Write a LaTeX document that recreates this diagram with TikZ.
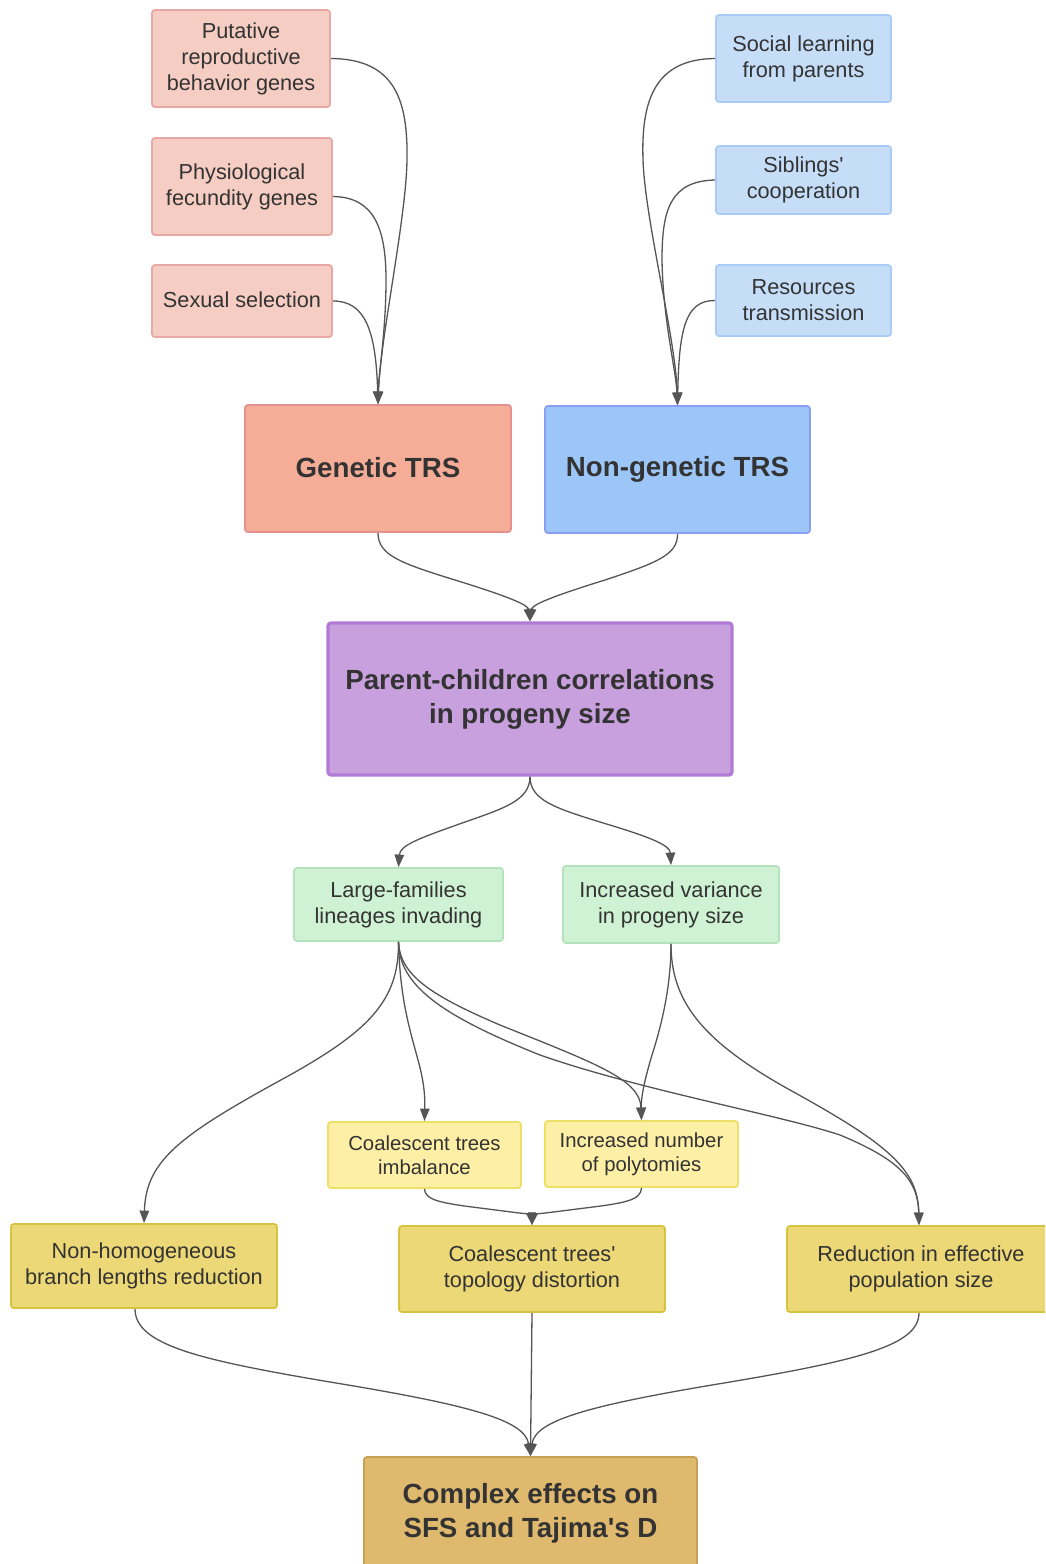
\documentclass[tikz,border=0pt]{standalone}
\usepackage{fontspec}
\setmainfont{Liberation Sans}
\usetikzlibrary{arrows.meta}
\definecolor{txt}{HTML}{333333}
\definecolor{edge}{HTML}{555555}
\definecolor{pinkF}{HTML}{F5CDC3}\definecolor{pinkD}{HTML}{E8A9A5}
\definecolor{lblueF}{HTML}{C6DDF8}\definecolor{lblueD}{HTML}{A9CCF6}
\definecolor{genF}{HTML}{F6AD97}\definecolor{genD}{HTML}{E59190}
\definecolor{ngF}{HTML}{9DC6F8}\definecolor{ngD}{HTML}{8C9EF3}
\definecolor{purF}{HTML}{C8A0DE}\definecolor{purD}{HTML}{B07AD6}
\definecolor{grnF}{HTML}{D0F2D4}\definecolor{grnD}{HTML}{B4E2BA}
\definecolor{lyF}{HTML}{FEEFA6}\definecolor{lyD}{HTML}{EEDF66}
\definecolor{yF}{HTML}{ECD877}\definecolor{yD}{HTML}{D6C43E}
\definecolor{cxF}{HTML}{DFB96D}\definecolor{cxD}{HTML}{C6A055}
\tikzset{
  box/.style={rectangle, rounded corners=3pt, line width=1.8pt, align=center, text=txt, inner sep=0pt,
    font=\fontsize{21.7}{26}\selectfont},
  bigbox/.style={box, font=\fontsize{27.7}{34}\selectfont\bfseries},
  smallbox/.style={box, font=\fontsize{20.3}{24}\selectfont},
  pinkbox/.style={fill=pinkF, draw=pinkD},
  lbluebox/.style={fill=lblueF, draw=lblueD},
  grnbox/.style={fill=grnF, draw=grnD},
  lybox/.style={fill=lyF, draw=lyD},
  ybox/.style={fill=yF, draw=yD},
  conn/.style={draw=edge, line width=1.3pt, -{Triangle[length=12.5pt,width=9.5pt]}, fill=none},
}
\begin{document}
\begin{tikzpicture}[x=1pt, y=-1pt]
\clip (0,0) rectangle (1045,1564);
\fill[white] (0,0) rectangle (1045,1564);

% top-left sources
\node[box, pinkbox, minimum width=178pt, minimum height=97pt] (put) at (241,58.5) {Putative\\reproductive\\behavior genes};
\node[box, pinkbox, minimum width=180pt, minimum height=97pt] (phy) at (242,186.5) {\raisebox{2pt}{Physiological}\\\raisebox{2pt}{fecundity genes}};
\node[box, pinkbox, minimum width=180pt, minimum height=72pt] (sex) at (242,301) {\raisebox{2pt}{Sexual selection}};
% top-right sources
\node[box, lbluebox, minimum width=175pt, minimum height=87pt] (soc) at (803.5,58.5) {Social learning\\from parents};
\node[box, lbluebox, minimum width=175pt, minimum height=68pt] (sib) at (803.5,180) {Siblings\textquotesingle\\cooperation};
\node[box, lbluebox, minimum width=175pt, minimum height=71pt] (res) at (803.5,300.5) {Resources\\transmission};
% TRS
\node[bigbox, fill=genF, draw=genD, minimum width=266pt, minimum height=127pt] (gen) at (378,468.5) {\raisebox{3pt}{Genetic TRS}};
\node[bigbox, fill=ngF, draw=ngD, minimum width=265pt, minimum height=127pt] (ngen) at (677.5,469.5) {Non-genetic TRS};
% parent-children
\node[bigbox, fill=purF, draw=purD, line width=3.2pt, minimum width=404pt, minimum height=152pt] (par) at (530,699) {Parent-children correlations\\in progeny size};
% green
\node[box, grnbox, minimum width=209pt, minimum height=73pt] (lar) at (398.5,904.5) {Large-families\\lineages invading};
\node[box, grnbox, minimum width=216pt, minimum height=77pt] (var) at (671,904.5) {Increased variance\\in progeny size};
% light yellow
\node[smallbox, lybox, minimum width=193pt, minimum height=66pt] (imb) at (424.5,1155) {Coalescent trees\\imbalance};
\node[smallbox, lybox, minimum width=193pt, minimum height=66pt] (pol) at (641.5,1154) {Increased number\\of polytomies};
% yellow
\node[box, ybox, minimum width=266pt, minimum height=84pt] (nh) at (144,1266) {Non-homogeneous\\branch lengths reduction};
\node[box, ybox, minimum width=266pt, minimum height=86pt] (top) at (532,1269) {Coalescent trees\textquotesingle\\topology distortion};
\node[box, ybox, minimum width=268pt, minimum height=86pt] (red) at (921,1269) {Reduction in effective\\population size};
% complex
\node[bigbox, fill=cxF, draw=cxD, minimum width=333pt, minimum height=113pt] (cx) at (530.5,1513.5) {Complex effects on\\SFS and Tajima\textquotesingle s D};

% connectors into Genetic TRS
\draw[conn] (put.east) .. controls (395,59) and (408,100) .. (407,160) .. controls (406,220) and (380,340) .. (gen.north);
\draw[conn] ([yshift=-10pt]phy.east) .. controls (375,197) and (386,230) .. (386,280) .. controls (386,330) and (379,370) .. (gen.north);
\draw[conn] (sex.east) .. controls (365,301) and (376,330) .. (gen.north);
% connectors into Non-genetic TRS
\draw[conn] (soc.west) .. controls (655,59) and (641,100) .. (643,160) .. controls (645,220) and (676,340) .. (ngen.north);
\draw[conn] (sib.west) .. controls (670,181) and (662,210) .. (662,260) .. controls (663,320) and (676,370) .. (ngen.north);
\draw[conn] (res.west) .. controls (685,300) and (679,330) .. (ngen.north);
% TRS -> parent
\draw[conn] (gen.south) .. controls (378,555) and (400,563) .. (455,580) .. controls (510,597) and (528,605) .. (par.north);
\draw[conn] (ngen.south) .. controls (678,555) and (656,563) .. (605,580) .. controls (550,597) and (532,605) .. (par.north);
% parent -> green
\draw[conn] (par.south) .. controls (530,800) and (505,808) .. (465,822) .. controls (420,838) and (400,845) .. (lar.north);
\draw[conn] (par.south) .. controls (530,800) and (555,808) .. (600,822) .. controls (650,837) and (670,845) .. (var.north);
% large families ->
\draw[conn] (lar.south) .. controls (399,1000) and (370,1030) .. (290,1075) .. controls (180,1135) and (146,1160) .. (nh.north);
\draw[conn] (lar.south) .. controls (400,1000) and (410,1030) .. (418,1060) .. controls (425,1085) and (425,1100) .. (imb.north);
\draw[conn] (lar.south) .. controls (400,975) and (430,995) .. (500,1025) .. controls (600,1065) and (640,1080) .. (pol.north);
\draw[conn] (lar.south) .. controls (399,985) and (440,1015) .. (540,1055) .. controls (640,1090) and (780,1115) .. (840,1135) .. controls (900,1160) and (918,1180) .. ([xshift=-2pt]red.north);
% increased variance ->
\draw[conn] (var.south) .. controls (671,990) and (660,1030) .. (652,1055) .. controls (643,1085) and (641,1100) .. (pol.north);
\draw[conn] (var.south) .. controls (671,1000) and (700,1040) .. (790,1090) .. controls (890,1145) and (918,1170) .. ([xshift=-2pt]red.north);
% light yellow -> topology
\draw[conn] (imb.south) .. controls (425,1200) and (440,1203) .. (480,1208) .. controls (520,1213) and (531,1215) .. (top.north);
\draw[conn] (pol.south) .. controls (641,1200) and (626,1203) .. (585,1208) .. controls (545,1213) and (533,1215) .. (top.north);
% yellow -> complex
\draw[conn] ([xshift=-9pt]nh.south) .. controls (135,1345) and (200,1360) .. (330,1382) .. controls (470,1405) and (525,1420) .. (cx.north);
\draw[conn] (top.south) -- (cx.north);
\draw[conn] ([xshift=-2pt]red.south) .. controls (919,1345) and (860,1360) .. (730,1382) .. controls (590,1405) and (535,1420) .. (cx.north);
\end{tikzpicture}
\end{document}
